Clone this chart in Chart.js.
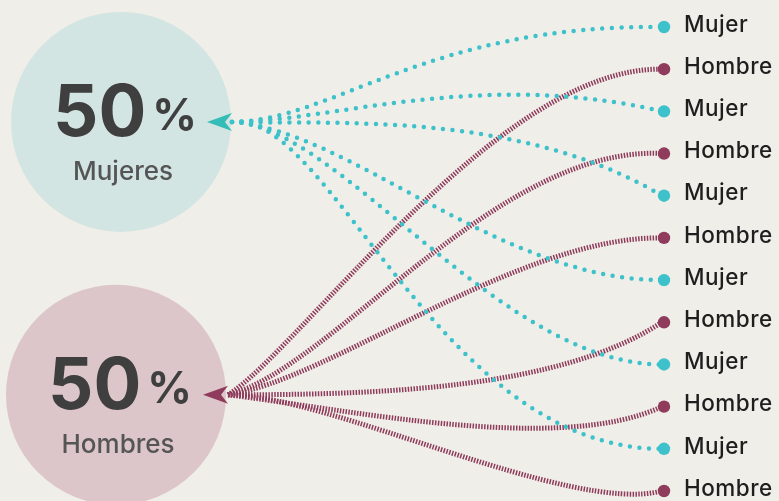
<!DOCTYPE html>
<html>
<head>
<meta charset="utf-8">
<script src="https://cdn.jsdelivr.net/npm/chart.js@4.4.1/dist/chart.umd.min.js"></script>
<style>
  html, body { margin: 0; padding: 0; background: #f0eee8; overflow: hidden; }
  canvas { display: block; }
</style>
</head>
<body>
<canvas id="flujo" width="779" height="501"></canvas>
<script>
// ── Datos ───────────────────────────────────────────────
const grupos      = ['Mujeres', 'Hombres'];
const porcentajes = [50, 50];
const destinos    = ['Mujer', 'Hombre', 'Mujer', 'Hombre', 'Mujer', 'Hombre',
                     'Mujer', 'Hombre', 'Mujer', 'Hombre', 'Mujer', 'Hombre'];
const origen      = [0, 1, 0, 1, 0, 1, 0, 1, 0, 1, 0, 1]; // índice en grupos

// ── Estilo / layout ─────────────────────────────────────
const FONT   = 'Inter, "Open Sans", sans-serif';
const TEAL   = '#3dc1cb';
const VINO   = '#8e3b5c';
const FLECHA = ['#33bdb6', '#8e3b5c'];
const CIRC   = ['rgba(200,226,224,0.75)', 'rgba(215,188,194,0.8)'];
const SRC_Y  = [2.25, 8.72];     // altura de cada grupo en unidades del eje y
const SRC_DX = [2, -2];          // ajuste horizontal del arranque de cada grupo
const CIRC_X = [121, 116];
const CIRC_R = 110;
// tiradores de cada curva (px): [dx1, dy1, dx2, dy2]
// P1 = origen + (dx1, dy1) ; P2 = destino + (-dx2, dy2)
const TIRADORES = [
  [98, 0, 233, -3],
  [72, -45, 163, -3],
  [98, 0, 183, -43],
  [102, -25, 163, -9],
  [98, 3, 143, -86],
  [102, -15, 143, -2],
  [118, 8, 163, 0],
  [152, 0, 103, 67],
  [108, 3, 163, 0],
  [122, 15, 103, 48],
  [98, -12, 223, 0],
  [102, 0, 93, 24]
];

const fondo = {
  id: 'fondo',
  beforeDraw(chart) {
    const { ctx, width, height } = chart;
    ctx.save();
    ctx.fillStyle = '#f0eee8';
    ctx.fillRect(0, 0, width, height);
    ctx.restore();
  }
};

function curva(ctx, x0, y0, x1, y1, t) {
  ctx.beginPath();
  ctx.moveTo(x0, y0);
  ctx.bezierCurveTo(x0 + t[0], y0 + t[1], x1 - t[2], y1 + t[3], x1, y1);
  ctx.stroke();
}

const flujos = {
  id: 'flujos',
  beforeDatasetsDraw(chart) {
    const { ctx, scales: { x, y } } = chart;
    ctx.save();

    // círculos + textos
    grupos.forEach((g, k) => {
      const cy = y.getPixelForValue(SRC_Y[k]);
      const cx = CIRC_X[k];
      ctx.fillStyle = CIRC[k];
      ctx.beginPath();
      ctx.arc(cx, cy, CIRC_R, 0, Math.PI * 2);
      ctx.fill();

      const num = String(porcentajes[k]);
      ctx.font = `bold 71px ${FONT}`;
      const wNum = ctx.measureText(num).width;
      ctx.font = `bold 44px ${FONT}`;
      const wPct = ctx.measureText('%').width;
      const gap = 6;
      const left = cx + 4 - (wNum + gap + wPct) / 2;
      ctx.fillStyle = '#3f3f3f';
      ctx.textBaseline = 'alphabetic';
      ctx.textAlign = 'left';
      ctx.font = `bold 71px ${FONT}`;
      ctx.fillText(num, left, cy + 14);
      ctx.font = `bold 44px ${FONT}`;
      ctx.fillText('%', left + wNum + gap, cy + 8);

      ctx.font = `500 26px ${FONT}`;
      ctx.fillStyle = '#555555';
      ctx.textAlign = 'center';
      ctx.textBaseline = 'middle';
      ctx.fillText(g, cx + 2, cy + 50);
    });

    const x1 = x.getPixelForValue(1) - 2;

    // hombres (rayado) primero, mujeres (punteado) encima
    ctx.strokeStyle = VINO;
    ctx.lineWidth = 5;
    ctx.lineCap = 'butt';
    ctx.setLineDash([1.5, 1.4]);
    destinos.forEach((d, i) => {
      if (origen[i] !== 1) return;
      curva(ctx, x.getPixelForValue(0) + SRC_DX[1], y.getPixelForValue(SRC_Y[1]),
            x1, y.getPixelForValue(i), TIRADORES[i]);
    });

    ctx.strokeStyle = TEAL;
    ctx.lineWidth = 4.5;
    ctx.lineCap = 'round';
    ctx.setLineDash([0, 9.6]);
    destinos.forEach((d, i) => {
      if (origen[i] !== 0) return;
      curva(ctx, x.getPixelForValue(0) + SRC_DX[0], y.getPixelForValue(SRC_Y[0]),
            x1, y.getPixelForValue(i), TIRADORES[i]);
    });
    ctx.setLineDash([]);

    // flechas
    grupos.forEach((g, k) => {
      const cy = y.getPixelForValue(SRC_Y[k]);
      const bx = x.getPixelForValue(0) + SRC_DX[k];
      ctx.fillStyle = FLECHA[k];
      ctx.beginPath();
      ctx.moveTo(bx - 25, cy);
      ctx.lineTo(bx, cy - 9);
      ctx.lineTo(bx - 7, cy);
      ctx.lineTo(bx, cy + 9);
      ctx.closePath();
      ctx.fill();
    });

    ctx.restore();
  },
  afterDatasetsDraw(chart) {
    const { ctx, scales: { x, y } } = chart;
    ctx.save();
    ctx.font = `500 22.5px ${FONT}`;
    ctx.letterSpacing = '0.5px';
    ctx.fillStyle = '#1e1e1e';
    ctx.textAlign = 'left';
    ctx.textBaseline = 'middle';
    destinos.forEach((d, i) => {
      ctx.fillText(d, x.getPixelForValue(1) + 20, y.getPixelForValue(i) - 2);
    });
    ctx.restore();
  }
};

new Chart(document.getElementById('flujo'), {
  type: 'scatter',
  data: {
    datasets: [{
      data: destinos.map((d, i) => ({ x: 1, y: i })),
      clip: false,
      pointRadius: 6.2,
      pointHoverRadius: 6.2,
      pointBorderWidth: 0,
      pointBackgroundColor: origen.map(o => o === 0 ? TEAL : VINO)
    }]
  },
  options: {
    responsive: false,
    animation: false,
    devicePixelRatio: 1,
    layout: { padding: { left: 230, right: 115, top: 27, bottom: 10 } },
    scales: {
      x: { type: 'linear', min: 0, max: 1, display: false },
      y: { type: 'linear', min: 0, max: 11, reverse: true, display: false }
    },
    plugins: { legend: { display: false }, tooltip: { enabled: false } },
    events: []
  },
  plugins: [fondo, flujos]
});
</script>
</body>
</html>
